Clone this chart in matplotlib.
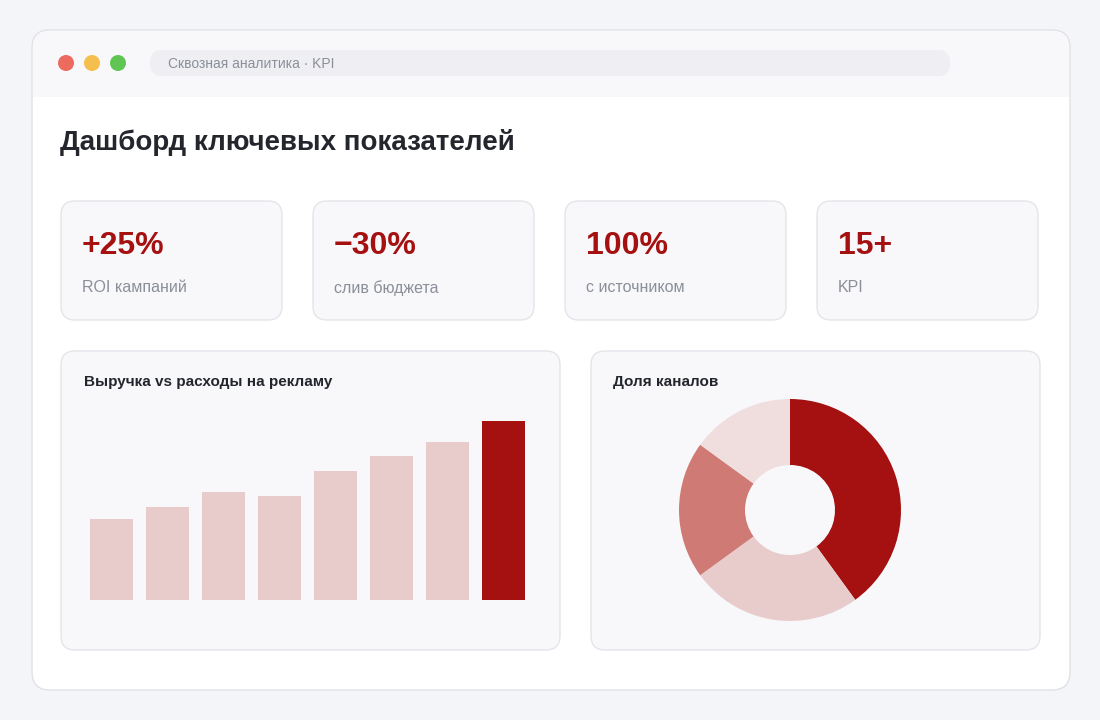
import matplotlib.pyplot as plt
from matplotlib.patches import FancyBboxPatch, Circle

plt.rcParams['font.family'] = ['Liberation Sans', 'DejaVu Sans']

W, H = 1100, 720
RED = '#a51010'

kpi_values = ['+25%', '\u221230%', '100%', '15+']
kpi_labels = ['ROI кампаний', 'слив бюджета', 'с источником', 'KPI']
bar_values = [81, 93, 108, 104, 129, 144, 158, 179]
channel_shares = [40, 25, 20, 15]
channel_colors = [RED, '#e8cccc', '#d07a76', '#f0dede']

fig = plt.figure(figsize=(W / 100, H / 100), dpi=100, facecolor='#f4f5f9')
bg = fig.add_axes([0, 0, 1, 1])
bg.set_xlim(0, W)
bg.set_ylim(H, 0)
bg.axis('off')


def box(x0, y0, x1, y1, fc, ec='none', r=14, z=1):
    bg.add_patch(FancyBboxPatch((x0 + r, y0 + r), x1 - x0 - 2 * r, y1 - y0 - 2 * r,
                                boxstyle=f'round,pad={r}', fc=fc, ec=ec, lw=1, zorder=z))


# window
box(32, 30, 1070, 690, 'white', '#dfe1e6', r=18)
box(33, 31, 1069, 97, '#f8f8fa', r=17, z=2)
bg.add_patch(plt.Rectangle((33, 70), 1036, 27, fc='#f8f8fa', ec='none', zorder=2))
for cx, c in zip([66, 92, 118], ['#ec6a5e', '#f4bf4f', '#61c554']):
    bg.add_patch(Circle((cx, 63), 8, fc=c, ec='none', zorder=3))
box(150, 50, 950, 76, '#efeff3', r=12, z=3)
bg.text(168, 64, 'Сквозная аналитика · KPI', fontsize=10, color='#8a8f99', va='center', zorder=4)

bg.text(60, 142, 'Дашборд ключевых показателей', fontsize=20, fontweight='bold',
        color='#23262d', va='center')

# KPI cards
for i, (v, lab) in enumerate(zip(kpi_values, kpi_labels)):
    x0 = 61 + i * 252
    box(x0, 201, x0 + 221, 320, '#f8f8fb', '#e3e5ea')
    bg.text(x0 + 21, 246, v, fontsize=23, fontweight='bold', color=RED, va='center')
    bg.text(x0 + 21, 288, lab, fontsize=11.5, color='#8a8f99', va='center')

# panels
box(61, 351, 560, 650, '#f8f8fb', '#e3e5ea')
box(591, 351, 1040, 650, '#f8f8fb', '#e3e5ea')
bg.text(84, 382, 'Выручка vs расходы на рекламу', fontsize=11, fontweight='bold',
        color='#23262d', va='center')
bg.text(613, 382, 'Доля каналов', fontsize=11, fontweight='bold', color='#23262d', va='center')

# bars
axb = fig.add_axes([84 / W, 1 - 600 / H, (531 - 84) / W, (600 - 421) / H])
colors = ['#e8cccc'] * (len(bar_values) - 1) + [RED]
axb.bar(range(len(bar_values)), bar_values, width=0.77, color=colors)
axb.set_xlim(-0.5, len(bar_values) - 0.5)
axb.set_ylim(0, max(bar_values))
axb.axis('off')

# donut
r = 111
axp = fig.add_axes([(790 - r) / W, 1 - (510 + r) / H, 2 * r / W, 2 * r / H])
axp.pie(channel_shares, colors=channel_colors, startangle=90, counterclock=False,
        radius=1, wedgeprops=dict(width=1 - 45 / 111, edgecolor='none'))
axp.set_xlim(-1, 1)
axp.set_ylim(-1, 1)
axp.axis('off')

fig.savefig('out.png', dpi=100, facecolor=fig.get_facecolor())
